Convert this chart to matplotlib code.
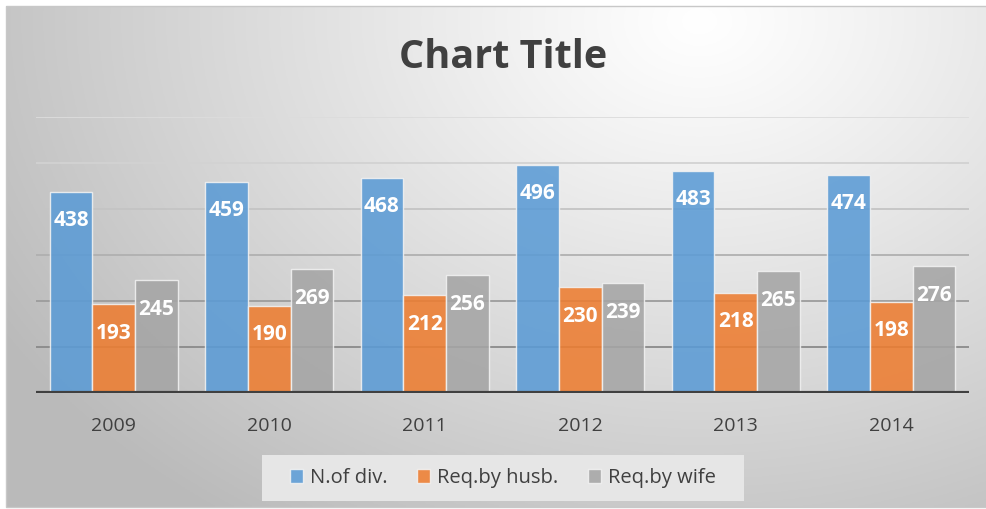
import numpy as np
import matplotlib.pyplot as plt
from matplotlib.patches import Rectangle

years = ['2009', '2010', '2011', '2012', '2013', '2014']
n_div = [438, 459, 468, 496, 483, 474]
req_husb = [193, 190, 212, 230, 218, 198]
req_wife = [245, 269, 256, 239, 265, 276]
series_names = ['N.of div.', 'Req.by husb.', 'Req.by wife']
colors = ['#5B9BD5', '#ED7D31', '#A5A5A5']
grid_vals = [100, 200, 300, 400, 500, 600]
grid_cols = ['#8a8a8a', '#9c9c9c', '#b0b0b0', '#c4c4c4', '#d2d2d2', '#dcdcdc']

plt.rcParams['font.family'] = ['Open Sans', 'DejaVu Sans']

W, H = 987, 509
fig = plt.figure(figsize=(W / 100, H / 100), dpi=100)

# chart area background: radial gradient, white top-centre to gray at the edges
bx0, by0, bx1, by1 = 6, 6, 987, 507
bg = fig.add_axes([bx0 / W, 1 - by1 / H, (bx1 - bx0) / W, (by1 - by0) / H])
xx, yy = np.meshgrid(np.linspace(bx0, bx1, 400), np.linspace(by0, by1, 200))
d = np.sqrt(((xx - 700) / 1.0) ** 2 + ((yy - 20) / 0.75) ** 2)
d = np.clip(d / 820, 0, 1)
shade = 1.0 - 0.27 * d ** 1.1
bg.imshow(np.dstack([shade] * 3), extent=[0, 1, 0, 1], aspect='auto', origin='upper')
bg.set_xlim(0, 1)
bg.set_ylim(0, 1)
bg.axis('off')
fig.add_artist(Rectangle((bx0 / W, 1 - by1 / H), (bx1 - bx0) / W, (by1 - by0) / H,
                         transform=fig.transFigure, fill=False, edgecolor='#c8c8c8', lw=1))

# legend background box
lx0, ly0, lx1, ly1 = 262, 455, 744, 501
fig.add_artist(Rectangle((lx0 / W, 1 - ly1 / H), (lx1 - lx0) / W, (ly1 - ly0) / H,
                         transform=fig.transFigure, facecolor='#e6e6e6',
                         edgecolor='none', zorder=1))

left, right, top, bottom = 36, 969, 117, 393
ax = fig.add_axes([left / W, 1 - bottom / H, (right - left) / W, (bottom - top) / H])
ax.patch.set_alpha(0)

x = np.arange(len(years))
w = 0.275
for v, c in zip(grid_vals, grid_cols):
    ax.axhline(v, color=c, lw=1.3, zorder=1)

data = [n_div, req_husb, req_wife]
for i, (vals, col, name) in enumerate(zip(data, colors, series_names)):
    bars = ax.bar(x + (i - 1) * w, vals, w, color=col, alpha=0.88, edgecolor='#f2f2f2',
                  linewidth=1, label=name, zorder=2)
    for xi, v in zip(x + (i - 1) * w, vals):
        ax.annotate(str(v), (xi, v), xytext=(0, -29), textcoords='offset pixels',
                    ha='center', va='center', color='white', fontsize=15,
                    fontweight='bold', zorder=3)

ax.axhline(0, color='#404040', lw=3, zorder=4)
ax.set_xlim(-0.5, len(years) - 0.5)
ax.set_ylim(0, 600)
ax.set_yticks([])
ax.set_xticks(x)
ax.set_xticklabels(years, fontsize=14, color='#404040')
ax.tick_params(axis='x', length=0, pad=17)
for s in ax.spines.values():
    s.set_visible(False)

fig.text(503 / W, 1 - 58 / H, 'Chart Title', ha='center', va='center', fontsize=28.5,
         fontweight='bold', color='#404040')

leg = fig.legend(loc='center', bbox_to_anchor=(503 / W, 1 - 478 / H), ncol=3,
                 frameon=False, fontsize=14.5, handlelength=0.65, handleheight=0.65,
                 columnspacing=1.45, handletextpad=0.35, borderpad=0.6)
for t in leg.get_texts():
    t.set_color('#404040')

fig.savefig('out.png', dpi=100)
